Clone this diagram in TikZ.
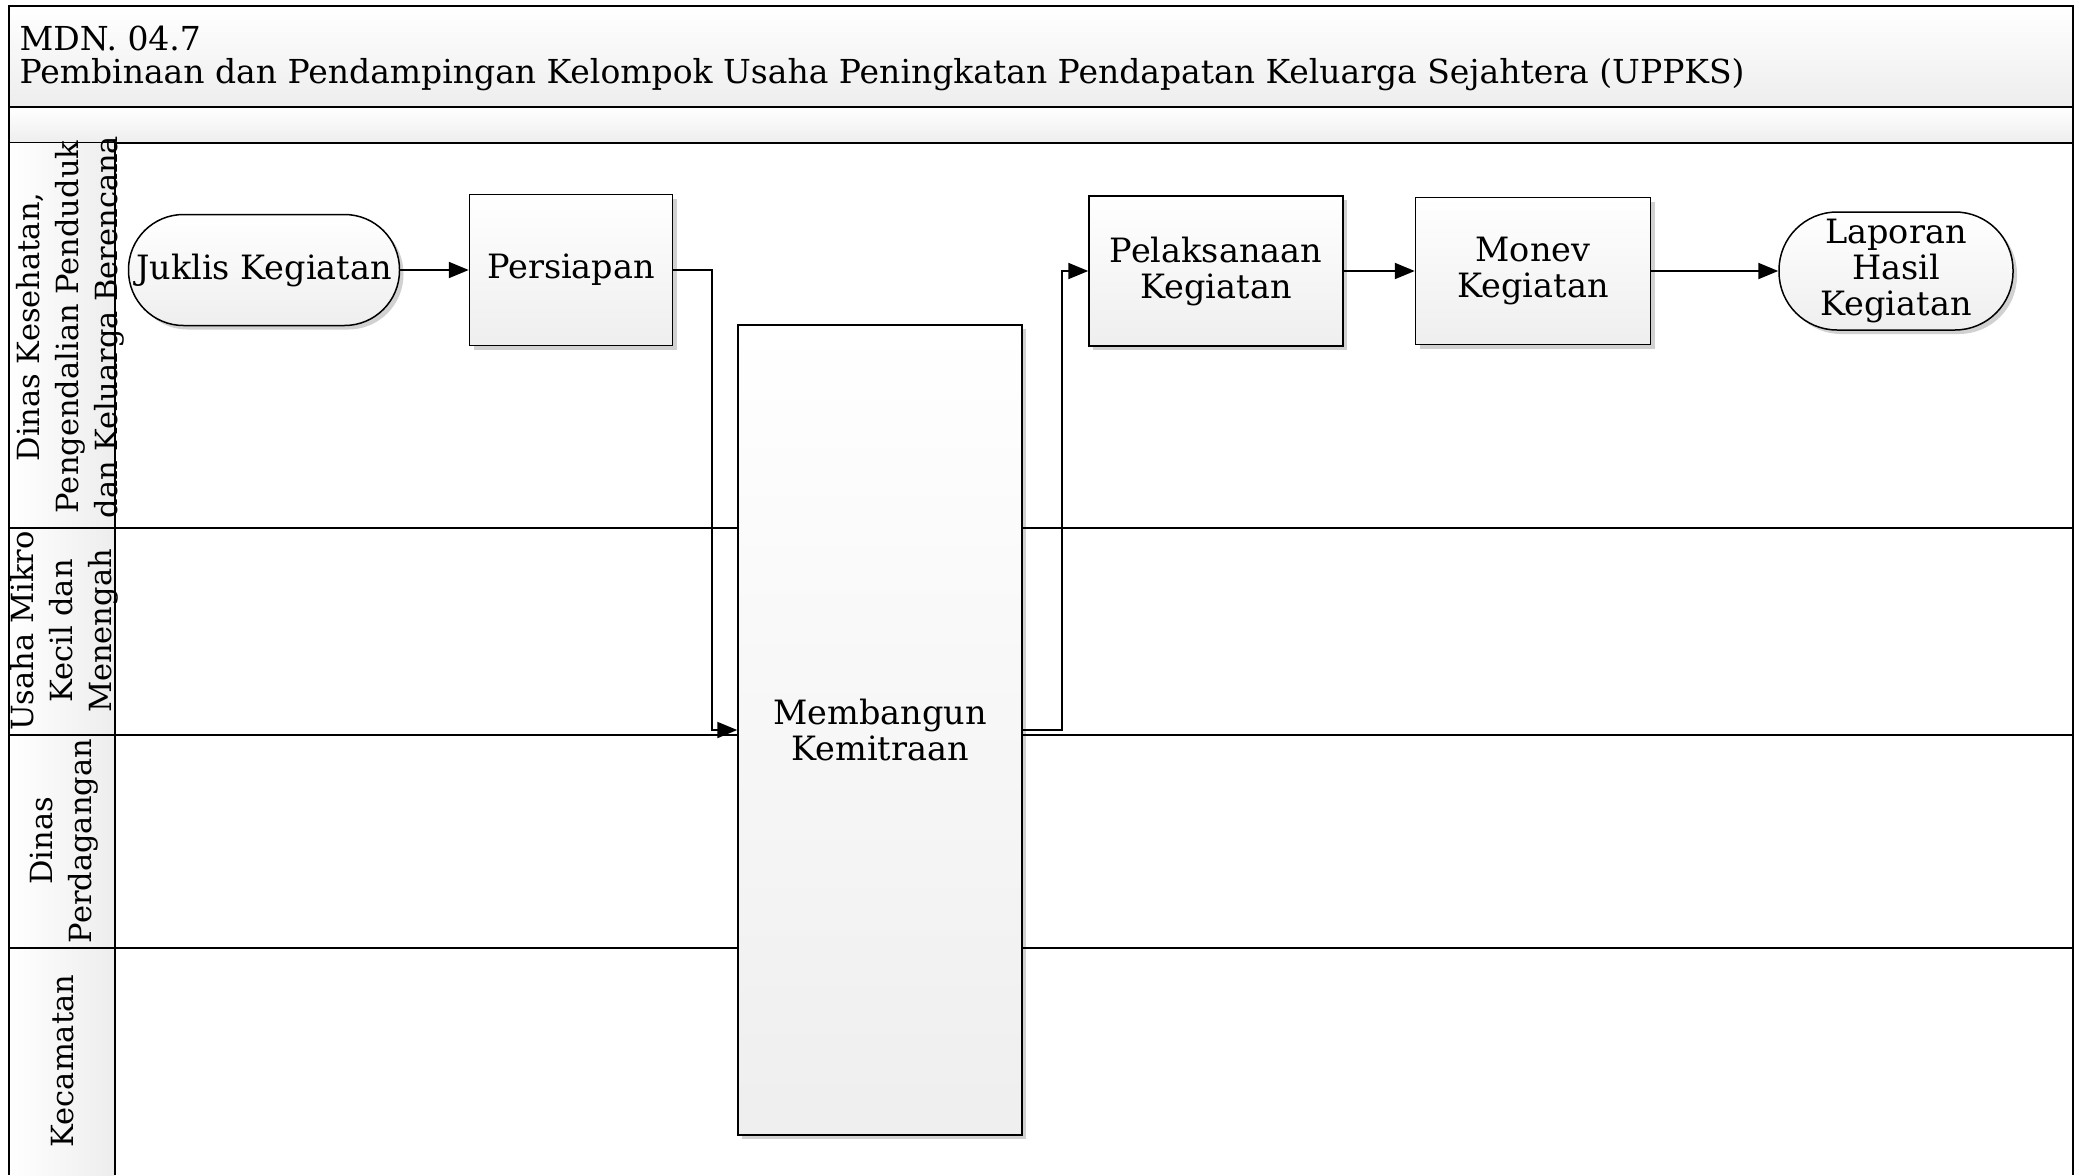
\documentclass[tikz,border=0pt]{standalone}
\usepackage{fontspec}
\setmainfont{DejaVu Serif}
\usetikzlibrary{arrows.meta,shadows,calc}
\tikzset{
  every node/.style={font=\fontsize{33.5}{36}\selectfont, text=black},
  shadefill/.style={top color=white, bottom color=gray!13},
  proc/.style={draw=black, line width=1.5pt, shadefill, align=center, inner sep=2pt,
    drop shadow={shadow xshift=4pt, shadow yshift=-4pt, opacity=0.18, fill=black}},
  stadium/.style={proc, rounded corners=55pt},
  conn/.style={draw=black, line width=2pt, -{Triangle[length=20pt,width=16pt]}},
  lanelabel/.style={rotate=90, align=center, font=\fontsize{30.5}{39}\selectfont},
  frame/.style={draw=black, line width=2pt},
  lane/.style={draw=black, line width=2pt}
}
\begin{document}
\begin{tikzpicture}[x=1pt,y=-1pt]
\useasboundingbox (0,0) rectangle (2079,1175);
% header
\path[frame, top color=white, bottom color=gray!14] (9,6) rectangle (2073,107);
\path[frame, top color=white, bottom color=gray!14] (9,107) rectangle (2073,143);
\node[anchor=west, font=\fontsize{33}{36}\selectfont] (code) at (16,38) {MDN. 04.7};
\node[anchor=west, font=\fontsize{33}{36}\selectfont] (title) at (16,75) {Pembinaan dan Pendampingan Kelompok Usaha Peningkatan Pendapatan Keluarga Sejahtera (UPPKS)};
% lane column
\path[left color=white, right color=gray!14] (9,143) rectangle (115,1175);
\draw[frame] (9,143) -- (9,1175);
\draw[frame] (2073,143) -- (2073,1175);
\draw[frame] (115,143) -- (115,1175);
\draw[lane] (9,528) -- (2073,528);
\draw[lane] (9,735) -- (2073,735);
\draw[lane] (9,948) -- (2073,948);
% lane labels
\node[lanelabel] (l1) at (70,327) {Dinas Kesehatan,\\Pengendalian Penduduk\\dan Keluarga Berencana};
\node[lanelabel] (l2) at (64,631) {Usaha Mikro\\Kecil dan\\Menengah};
\node[lanelabel] (l3) at (64,841) {Dinas\\Perdagangan};
\node[lanelabel] (l4) at (63,1061) {Kecamatan};
% nodes
\node[stadium, minimum width=271pt, minimum height=111pt] (juk) at (264,270) {Juklis Kegiatan};
\node[proc, minimum width=203pt, minimum height=151pt] (per) at (571,270) {Persiapan};
\node[proc, minimum width=284pt, minimum height=810pt] (mem) at (880,730) {Membangun\\Kemitraan};
\node[proc, minimum width=254pt, minimum height=150pt] (pel) at (1216,271) {Pelaksanaan\\Kegiatan};
\node[proc, minimum width=235pt, minimum height=147pt] (mon) at (1533,271) {Monev\\Kegiatan};
\node[stadium, minimum width=234pt, minimum height=118pt, rounded corners=58pt] (lap) at (1896,271) {Laporan\\Hasil\\Kegiatan};
% connectors
\draw[conn] (juk) -- (per);
\draw[conn] (per.east) -- ++(39,0) |- (mem.west);
\draw[conn] (mem.east) -- ++(39,0) |- (pel.west);
\draw[conn] (pel) -- (mon);
\draw[conn] (mon.east) -- (lap.west);
\end{tikzpicture}
\end{document}
